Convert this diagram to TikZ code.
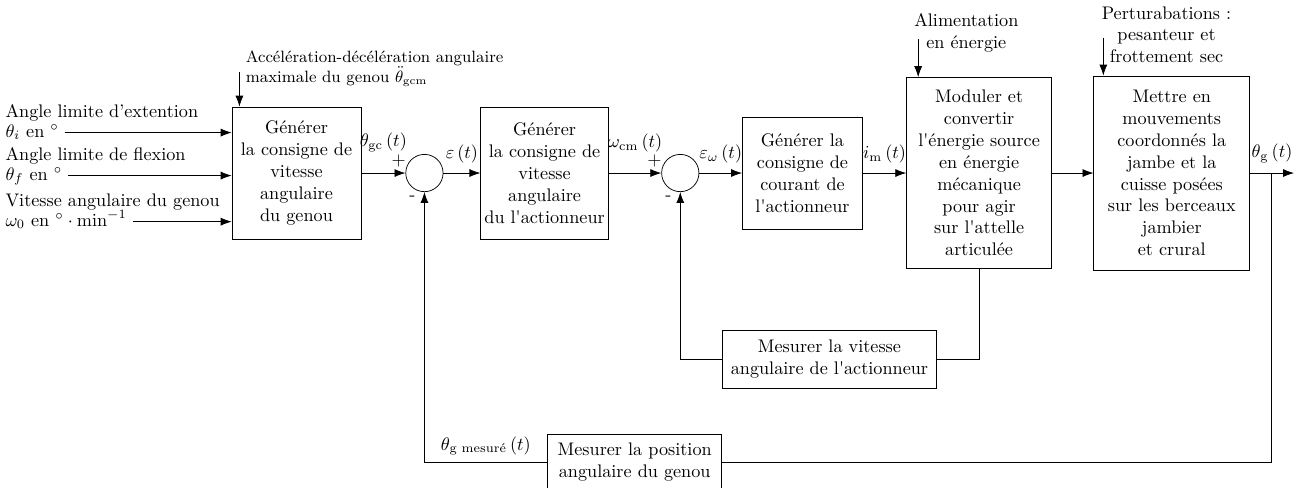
\documentclass[tikz,border=0pt]{standalone}
\usepackage{amsmath}
\usetikzlibrary{positioning, arrows.meta}
\usetikzlibrary{calc}

\begin{document}
\begin{tikzpicture}[>={Latex[length=6pt, width=4.4pt]}, node distance=2.4cm, on grid, auto,
    bloc/.style={draw, align=center, inner xsep=2pt},
    somme/.style={draw, circle, minimum size=0.72cm, inner sep=0pt},
    plus/.style={inner sep=1pt, yshift=-3pt},
    moins/.style={inner sep=1pt, xshift=1.5pt, yshift=-2.5pt},
    entree/.style={anchor=west, inner sep=0pt, text height=7pt, text depth=2pt},
    titre/.style={anchor=base west, inner sep=0pt, yshift=3.5pt}]
    \useasboundingbox (0,0) rectangle (25.12,-9.42);

    \node[bloc, minimum width=2.49cm, minimum height=2.55cm] (gen1) at (5.725,-3.341) {Générer\\la consigne de\\vitesse\\angulaire\\du genou};
    \node[somme, label={[plus]150:$+$}, label={[moins]240:{-}}] (s1) [right=2.47cm of gen1] {};
    \node[bloc, minimum width=2.45cm, minimum height=2.55cm] (gen2) [right=2.32cm of s1] {Générer\\la consigne de\\vitesse\\angulaire\\du l\textquotesingle actionneur};
    \node[somme, label={[plus]150:$+$}, label={[moins]240:{-}}] (s2) [right=2.62cm of gen2] {};
    \node[bloc, minimum width=2.32cm, minimum height=2.16cm] (gen3) [right=2.36cm of s2] {Générer la\\consigne de\\courant de\\l\textquotesingle actionneur};
    \node[bloc, minimum width=2.8cm, minimum height=3.69cm] (conv) [right=3.41cm of gen3] {Moduler et\\convertir\\l\textquotesingle énergie source\\en énergie\\mécanique\\pour agir\\sur l\textquotesingle attelle\\articulée};
    \node[bloc, minimum width=3.01cm, minimum height=3.75cm] (meca) [right=3.72cm of conv] {Mettre en\\mouvements\\coordonnés la\\jambe et la\\cuisse posées\\sur les berceaux\\jambier\\et crural};
    \coordinate[right=1.93cm of meca] (br);
    \coordinate[right=2.36cm of meca] (out);
    \node[bloc, minimum width=4.13cm, minimum height=1.12cm] (mesvit) [below left=3.59cm and 2.89cm of conv] {Mesurer la vitesse\\angulaire de l\textquotesingle actionneur};
    \node[bloc, minimum width=3.36cm, minimum height=1.08cm] (mespos) [below right=5.58cm and 4.06cm of s1] {Mesurer la position\\angulaire du genou};

    % entrees
    \node[entree, label={[titre]north west:Angle limite d'extention}] (thi) at (0.1,-2.56) {$\theta_i$ en $^\circ$};
    \node[entree, label={[titre]north west:Angle limite de flexion}] (thf) at (0.1,-3.39) {$\theta_f$ en $^\circ$};
    \node[entree, label={[titre]north west:Vitesse angulaire du genou}] (om) at (0.1,-4.28) {$\omega_0$ en $^\circ\cdot\mathrm{min}^{-1}$};

    \node[anchor=west, align=left, font=\small] (acc) at ($(gen1.north west)+(0.15,0.74)$) {Accélération-décélération angulaire\\maximale du genou $\ddot{\theta}_{\mathrm{gcm}}$};
    \coordinate (accin) at ($(gen1.north west)+(0.15,0.66)$);
    \node[align=center] (alim) at ($(conv.north west)+(1.16,0.85)$) {Alimentation\\en énergie};
    \coordinate (alimin) at ($(conv.north west)+(0.23,0.73)$);
    \node[align=center] (pert) at ($(meca.north west)+(1.41,0.79)$) {Perturabations :\\pesanteur et\\frottement sec};
    \coordinate (pertin) at ($(meca.north west)+(0.19,0.73)$);

    \draw[->, shorten <=3pt] (thi) -- (thi -| gen1.west);
    \draw[->, shorten <=3pt] (thf) -- (thf -| gen1.west);
    \draw[->, shorten <=3pt] (om) -- (om -| gen1.west);
    \draw[->] (accin) -- (accin |- gen1.north);
    \draw[->] (alimin) -- (alimin |- conv.north);
    \draw[->] (pertin) -- (pertin |- meca.north);

    \path[->]
    (gen1) edge node[yshift=8pt] {$\theta_{\mathrm{gc}}\left(t\right)$} (s1)
    (s1) edge node[yshift=2pt] {$\varepsilon\left(t\right)$} (gen2)
    (gen2) edge node[yshift=8pt] {$\omega_{\mathrm{cm}}\left(t\right)$} (s2)
    (s2) edge node[yshift=2pt] {$\varepsilon_{\omega}\left(t\right)$} (gen3)
    (gen3) edge node[yshift=2pt] {$i_{\mathrm{m}}\left(t\right)$} (conv)
    (conv) edge (meca)
    (meca) edge node[yshift=2pt] {$\theta_{\mathrm{g}}\left(t\right)$} (out);

    % boucles de retour
    \draw (conv) -- (conv |- mesvit) -- (mesvit);
    \draw[->] (mesvit) -| (s2);
    \draw (br) |- (mespos);
    \draw[->] (mespos) -| node[pos=0.25, above] {$\theta_{\text{g mesuré}}\left(t\right)$} (s1);
\end{tikzpicture}
\end{document}
